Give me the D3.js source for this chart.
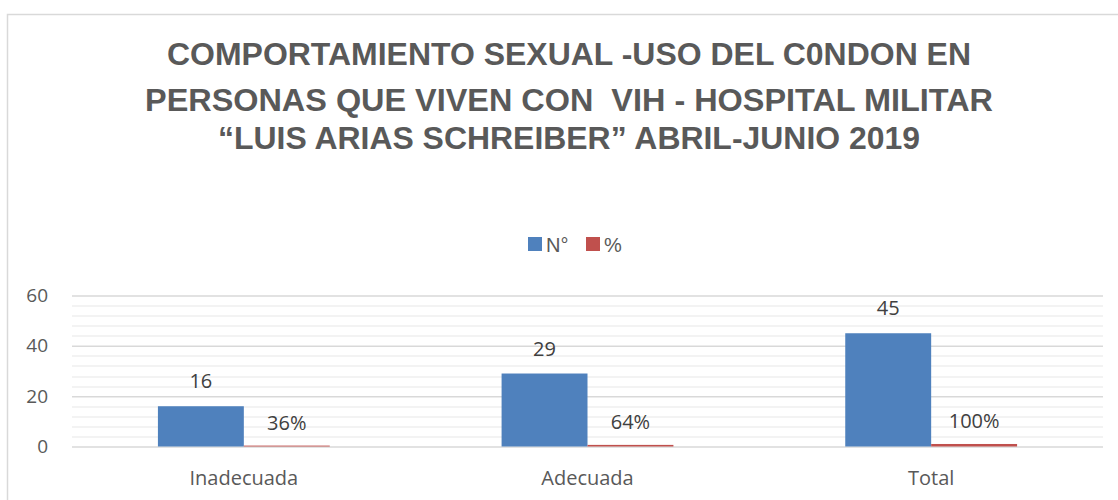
<!DOCTYPE html>
<meta charset="utf-8">
<html>
<head>
    <title>Uso del condon</title>
    <style>
        body { margin: 0; background: #fff; }
        text { font-family: "Open Sans", "Liberation Sans", sans-serif; }
    </style>
    <script src="https://d3js.org/d3.v7.min.js"></script>
</head>
<body>
    <div id="chart"></div>
    <script>
        // data
        var categories = ["Inadecuada", "Adecuada", "Total"];
        var seriesNames = ["N°", "%"];
        var countValues = [16, 29, 45];
        var pctValues = [0.36, 0.64, 1.00];
        var pctLabels = ["36%", "64%", "100%"];
        var yTicks = [0, 20, 40, 60];
        var titleLines = [
            "COMPORTAMIENTO SEXUAL -USO DEL C0NDON EN",
            "PERSONAS QUE VIVEN CON  VIH - HOSPITAL MILITAR",
            "\u201CLUIS ARIAS SCHREIBER\u201D ABRIL-JUNIO 2019"
        ];
        var colors = ["#4f81bd", "#c0504d"];

        var W = 1118, H = 500;
        var margin = { top: 295.5, right: 15, bottom: 53.5, left: 72 };
        var width = W - margin.left - margin.right,
            height = H - margin.top - margin.bottom;

        var svg = d3.select("#chart").append("svg")
            .attr("width", W)
            .attr("height", H);

        // frame
        svg.append("path")
            .attr("d", "M7.5," + H + "V14.5H" + W)
            .attr("fill", "none")
            .attr("stroke", "#d9d9d9")
            .attr("stroke-width", 1.5);

        // title (condensed look: bigger font squeezed to the measured widths, a bit flattened)
        var titleY = [65, 111, 149];
        var titleW = [804, 848, 702];
        svg.selectAll(".title")
            .data(titleLines)
            .enter().append("text")
            .attr("class", "title")
            .attr("transform", function (d, i) { return "translate(569," + titleY[i] + ") scale(1,0.86)"; })
            .attr("text-anchor", "middle")
            .attr("textLength", function (d, i) { return titleW[i]; })
            .attr("lengthAdjust", "spacingAndGlyphs")
            .style("white-space", "pre")
            .style("font-family", "'Liberation Sans', Arial, sans-serif")
            .style("font-weight", "bold")
            .style("font-size", "36px")
            .attr("fill", "#595959")
            .text(function (d) { return d; });

        // legend
        var legend = svg.append("g").attr("transform", "translate(528,237)");
        var legX = [0, 58];
        seriesNames.forEach(function (s, i) {
            legend.append("rect")
                .attr("x", legX[i]).attr("y", 0)
                .attr("width", 14).attr("height", 14)
                .attr("fill", colors[i]);
            legend.append("text")
                .attr("x", legX[i] + 18).attr("y", 14.5)
                .style("font-family", "'Liberation Sans', Arial, sans-serif")
                .style("font-size", "20px")
                .attr("fill", "#595959")
                .text(s);
        });

        var g = svg.append("g")
            .attr("transform", "translate(" + margin.left + "," + margin.top + ")");

        var x = d3.scaleBand().domain(categories).range([0, width]);
        var xSub = d3.scaleBand().domain(seriesNames)
            .range([0, x.bandwidth()]).paddingOuter(1);
        var y = d3.scaleLinear().domain([0, 60]).range([height, 0]);

        // minor gridlines
        g.selectAll(".minor")
            .data(d3.range(0, 61, 4).filter(function (v) { return v % 20 !== 0; }))
            .enter().append("line")
            .attr("x1", 0).attr("x2", width)
            .attr("y1", function (d) { return Math.round(y(d)) + 0.5; })
            .attr("y2", function (d) { return Math.round(y(d)) + 0.5; })
            .attr("stroke", "#efefef")
            .attr("stroke-width", 1.5);

        // major gridlines + y labels
        var yAxis = g.append("g")
            .call(d3.axisLeft(y).tickValues(yTicks).tickSize(-width).tickPadding(24));
        yAxis.select(".domain").remove();
        yAxis.selectAll(".tick line").attr("stroke", "#d9d9d9").attr("stroke-width", 1.5);
        yAxis.selectAll(".tick text")
            .style("font-size", "19px")
            .attr("fill", "#595959");

        // x labels
        var xAxis = g.append("g")
            .attr("transform", "translate(0," + height + ")")
            .call(d3.axisBottom(x).tickSize(0).tickPadding(24));
        xAxis.select(".domain").remove();
        xAxis.selectAll(".tick text")
            .style("font-size", "20px")
            .attr("fill", "#595959");

        // bars
        var groups = g.selectAll(".grp")
            .data(categories)
            .enter().append("g")
            .attr("transform", function (d) { return "translate(" + x(d) + ",0)"; });

        groups.append("rect")
            .attr("x", xSub("N°"))
            .attr("width", xSub.bandwidth())
            .attr("y", function (d, i) { return y(countValues[i]); })
            .attr("height", function (d, i) { return height - y(countValues[i]); })
            .attr("fill", colors[0]);

        groups.append("rect")
            .attr("x", xSub("%"))
            .attr("width", xSub.bandwidth())
            .attr("y", function (d, i) { return y(pctValues[i]); })
            .attr("height", function (d, i) { return height - y(pctValues[i]); })
            .attr("fill", colors[1]);

        // data labels
        groups.append("text")
            .attr("x", xSub("N°") + xSub.bandwidth() / 2)
            .attr("y", function (d, i) { return y(countValues[i]) - 18; })
            .attr("text-anchor", "middle")
            .style("font-size", "20px")
            .attr("fill", "#404040")
            .text(function (d, i) { return countValues[i]; });

        groups.append("text")
            .attr("x", xSub("%") + xSub.bandwidth() / 2)
            .attr("y", function (d, i) { return y(pctValues[i]) - 16; })
            .attr("text-anchor", "middle")
            .style("font-size", "20px")
            .attr("fill", "#404040")
            .text(function (d, i) { return pctLabels[i]; });
    </script>
</body>
</html>
